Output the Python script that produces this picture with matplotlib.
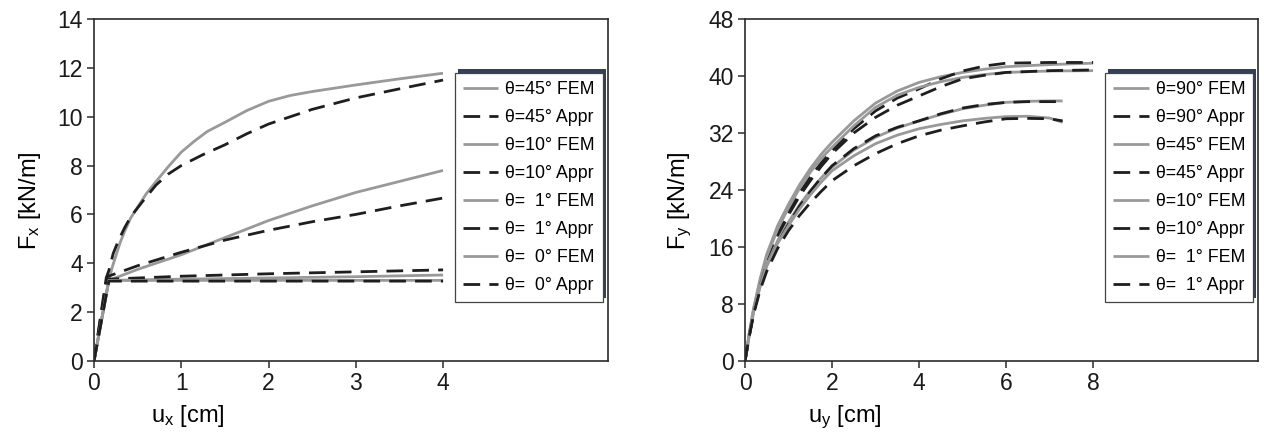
import matplotlib
matplotlib.use("Agg")
import matplotlib.pyplot as plt
import matplotlib.patches as mpatches
from matplotlib.transforms import IdentityTransform
import numpy as np

plt.rcParams['font.family'] = ['Liberation Sans', 'DejaVu Sans']
plt.rcParams['mathtext.default'] = 'regular'

# ---- left panel: Fx [kN/m] vs ux [cm] ----
ux_45_fem = [0, 0.17, 0.21, 0.25, 0.3, 0.35, 0.42, 0.5, 0.6, 0.7, 0.85, 1.0, 1.15, 1.3, 1.5, 1.75, 2.0, 2.25, 2.5, 3.0, 3.5, 4.0]
fx_45_fem = [0, 3.3, 3.85, 4.3, 4.85, 5.3, 5.85, 6.3, 6.85, 7.3, 7.95, 8.55, 9.0, 9.4, 9.77, 10.25, 10.63, 10.87, 11.03, 11.3, 11.55, 11.78]
ux_45_apr = [0, 0.14, 0.17, 0.22, 0.28, 0.35, 0.42, 0.55, 0.71, 0.85, 1.0, 1.25, 1.5, 1.75, 2.0, 2.5, 3.0, 3.5, 4.0]
fx_45_apr = [0, 3.4, 3.7, 4.4, 4.93, 5.45, 5.9, 6.5, 7.2, 7.65, 8.0, 8.45, 8.85, 9.3, 9.7, 10.3, 10.77, 11.14, 11.5]
ux_10_fem = [0, 0.17, 0.5, 1.0, 1.5, 2.0, 2.5, 3.0, 3.5, 4.0]
fx_10_fem = [0, 3.3, 3.75, 4.35, 5.05, 5.75, 6.35, 6.9, 7.35, 7.8]
ux_10_apr = [0, 0.15, 0.5, 1.0, 1.5, 2.0, 2.5, 3.0, 3.5, 4.0]
fx_10_apr = [0, 3.45, 3.9, 4.45, 4.95, 5.35, 5.7, 6.0, 6.35, 6.67]
ux_1_fem = [0, 0.17, 1.0, 2.0, 3.0, 4.0]
fx_1_fem = [0, 3.3, 3.35, 3.4, 3.45, 3.52]
ux_1_apr = [0, 0.16, 1.0, 2.0, 3.0, 4.0]
fx_1_apr = [0, 3.35, 3.47, 3.57, 3.65, 3.73]
ux_0_fem = [0, 0.17, 4.0]
fx_0_fem = [0, 3.3, 3.3]
ux_0_apr = [0, 0.17, 4.0]
fx_0_apr = [0, 3.27, 3.27]

left_labels = ['\u03b8=45\u00b0 FEM', '\u03b8=45\u00b0 Appr',
               '\u03b8=10\u00b0 FEM', '\u03b8=10\u00b0 Appr',
               '\u03b8=  1\u00b0 FEM', '\u03b8=  1\u00b0 Appr',
               '\u03b8=  0\u00b0 FEM', '\u03b8=  0\u00b0 Appr']

# ---- right panel: Fy [kN/m] vs uy [cm] ----
uy_fem = [0, 0.1, 0.2, 0.35, 0.5, 0.75, 1.0, 1.25, 1.5, 1.75, 2.0, 2.5, 3.0, 3.5, 4.0, 4.5, 5.0, 5.5, 6.0, 7.0, 8.0]
fy_90_fem = [0, 4.0, 7.5, 11.6, 15.0, 19.0, 22.0, 24.7, 27.0, 29.0, 30.7, 33.7, 36.2, 37.9, 39.1, 39.9, 40.5, 40.95, 41.3, 41.6, 41.8]
fy_45_fem = [0, 3.9, 7.3, 11.3, 14.6, 18.5, 21.5, 24.2, 26.5, 28.4, 30.0, 33.0, 35.6, 37.3, 38.4, 39.2, 39.8, 40.2, 40.5, 40.7, 40.75]
uy_apr = [0, 0.1, 0.2, 0.35, 0.5, 0.75, 1.0, 1.25, 1.5, 1.75, 2.0, 2.5, 3.0, 3.5, 4.0, 4.5, 5.0, 5.5, 6.0, 7.0, 8.0]
fy_90_apr = [0, 3.7, 7.0, 10.9, 14.0, 18.0, 21.0, 23.6, 25.8, 27.8, 29.5, 32.6, 35.1, 36.9, 38.2, 39.6, 40.7, 41.4, 41.8, 41.9, 41.9]
fy_45_apr = [0, 3.6, 6.8, 10.6, 13.6, 17.4, 20.5, 23.1, 25.3, 27.3, 29.1, 32.0, 34.2, 35.9, 37.2, 38.5, 39.6, 40.1, 40.5, 40.75, 40.85]
uy_10 = [0, 0.1, 0.2, 0.35, 0.5, 0.75, 1.0, 1.25, 1.5, 1.75, 2.0, 2.5, 3.0, 3.5, 4.0, 4.5, 5.0, 5.5, 6.0, 6.5, 7.0, 7.3]
fy_10_fem = [0, 3.7, 7.0, 10.6, 13.5, 16.9, 19.5, 21.9, 23.9, 25.7, 27.2, 29.6, 31.4, 32.7, 33.7, 34.6, 35.4, 35.9, 36.3, 36.45, 36.5, 36.5]
fy_10_apr = [0, 3.6, 6.8, 10.4, 13.2, 16.5, 19.2, 21.7, 23.8, 25.7, 27.4, 29.8, 31.6, 32.8, 33.7, 34.7, 35.5, 36.0, 36.3, 36.4, 36.4, 36.4]
uy_1_fem = [0, 0.1, 0.2, 0.35, 0.5, 0.75, 1.0, 1.25, 1.5, 1.75, 2.0, 2.5, 3.0, 3.5, 4.0, 4.5, 5.0, 5.5, 6.0, 6.5, 7.0, 7.3]
fy_1_fem = [0, 3.7, 7.0, 10.5, 13.3, 16.5, 19.0, 21.3, 23.3, 25.1, 26.7, 28.8, 30.5, 31.7, 32.6, 33.2, 33.7, 34.05, 34.3, 34.35, 34.1, 33.5]
uy_1_apr = [0, 0.1, 0.2, 0.35, 0.5, 0.75, 1.0, 1.25, 1.5, 1.75, 2.0, 2.5, 3.0, 3.5, 4.0, 4.5, 5.0, 5.5, 6.0, 6.5, 7.0, 7.3]
fy_1_apr = [0, 3.5, 6.6, 10.0, 12.6, 15.8, 18.3, 20.4, 22.2, 23.8, 25.3, 27.4, 29.1, 30.5, 31.6, 32.4, 33.0, 33.55, 34.0, 34.05, 34.0, 33.7]

right_labels = ['\u03b8=90\u00b0 FEM', '\u03b8=90\u00b0 Appr',
                '\u03b8=45\u00b0 FEM', '\u03b8=45\u00b0 Appr',
                '\u03b8=10\u00b0 FEM', '\u03b8=10\u00b0 Appr',
                '\u03b8=  1\u00b0 FEM', '\u03b8=  1\u00b0 Appr']

FEM_STYLE = dict(color='#999999', lw=2.0, solid_capstyle='butt', solid_joinstyle='round')
APR_STYLE = dict(color='#1e1e1e', lw=2.0, dashes=(6.0, 3.3), dash_capstyle='butt')
SPINE_C = '#2b2b2b'
SHADOW_C = '#34405a'

fig = plt.figure(figsize=(12.64, 4.38), dpi=100)
ax1 = fig.add_axes([94/1264, 77/438, 514/1264, 342/438])
ax2 = fig.add_axes([745/1264, 77/438, 513/1264, 342/438])


def style_axes(ax):
    for s in ax.spines.values():
        s.set_color(SPINE_C)
        s.set_linewidth(1.2)
    ax.tick_params(direction='out', length=5, width=1.1, color=SPINE_C,
                   labelsize=16.5, pad=3, labelcolor='#1a1a1a')


def draw_pairs(ax, pairs):
    handles = []
    for (u, f, fem) in pairs:
        st = FEM_STYLE if fem else APR_STYLE
        h, = ax.plot(u, f, **st)
        handles.append(h)
    return handles


left_pairs = [(ux_45_fem, fx_45_fem, True), (ux_45_apr, fx_45_apr, False),
              (ux_10_fem, fx_10_fem, True), (ux_10_apr, fx_10_apr, False),
              (ux_1_fem, fx_1_fem, True), (ux_1_apr, fx_1_apr, False),
              (ux_0_fem, fx_0_fem, True), (ux_0_apr, fx_0_apr, False)]
right_pairs = [(uy_fem, fy_90_fem, True), (uy_apr, fy_90_apr, False),
               (uy_fem, fy_45_fem, True), (uy_apr, fy_45_apr, False),
               (uy_10, fy_10_fem, True), (uy_10, fy_10_apr, False),
               (uy_1_fem, fy_1_fem, True), (uy_1_apr, fy_1_apr, False)]

h1 = draw_pairs(ax1, left_pairs)
h2 = draw_pairs(ax2, right_pairs)

ax1.set_xlim(0, 5.89)
ax1.set_ylim(0, 14)
ax1.set_xticks(np.arange(0, 5, 1))
ax1.set_yticks(np.arange(0, 15, 2))
ax1.set_xlabel('u$_x$ [cm]', fontsize=17, x=0.183, labelpad=6)
ax1.set_ylabel('F$_x$ [kN/m]', fontsize=17, y=0.47, labelpad=10)

ax2.set_xlim(0, 11.79)
ax2.set_ylim(0, 48)
ax2.set_xticks(np.arange(0, 9, 2))
ax2.set_yticks(np.arange(0, 49, 8))
ax2.set_xlabel('u$_y$ [cm]', fontsize=17, x=0.195, labelpad=6)
ax2.set_ylabel('F$_y$ [kN/m]', fontsize=17, y=0.47, labelpad=10)

legs = []
for ax, hh, lab in [(ax1, h1, left_labels), (ax2, h2, right_labels)]:
    style_axes(ax)
    leg = ax.legend(hh, lab, loc='upper left', bbox_to_anchor=(0.702, 0.842),
                    borderaxespad=0, fontsize=12.8, frameon=True, fancybox=False,
                    edgecolor='#444444', framealpha=1, handlelength=2.0,
                    handletextpad=0.4, labelspacing=0.62, borderpad=0.45)
    leg.get_frame().set_linewidth(0.9)
    legs.append(leg)

# shadow box behind each legend, offset up and to the right (pixel coords)
fig.canvas.draw()
for ax, leg in zip([ax1, ax2], legs):
    bb = leg.get_window_extent()
    rect = mpatches.Rectangle((bb.x0 + 3, bb.y0 + 4), bb.width, bb.height,
                              transform=IdentityTransform(), facecolor=SHADOW_C,
                              edgecolor='none', zorder=4.9, clip_on=False)
    ax.add_patch(rect)

fig.savefig('out.png', dpi=100, facecolor='white')
